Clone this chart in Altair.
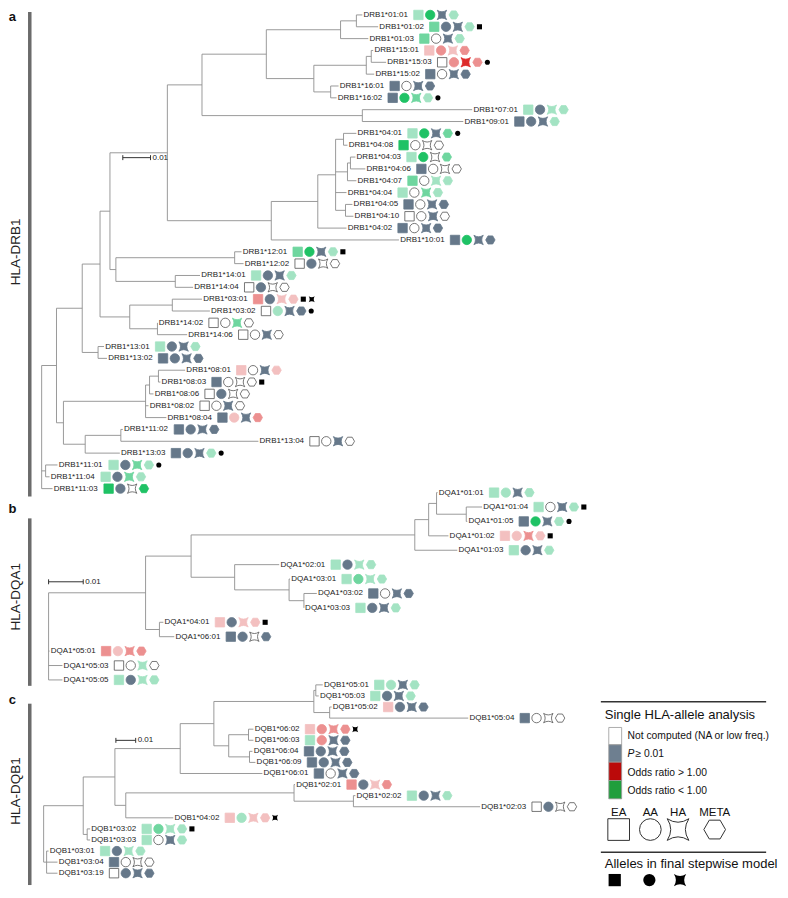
import altair as alt
import pandas as pd

# ---------------- colour classes of the single-allele analysis ----------------
CLASS_FILL = {"W": "#ffffff", "S": "#66788a", "G1": "#a3e3c3", "G2": "#6fd69f", "G3": "#1fc265",
              "R1": "#f3c0c0", "R2": "#ec9090", "R3": "#dd2b2b"}

STAR = "M-1,-1Q0,-0.35,1,-1Q0.35,0,1,1Q0,0.35,-1,1Q-0.35,0,-1,-1Z"
HEX = "M-1,0L-0.5,-0.866L0.5,-0.866L1,0L0.5,0.866L-0.5,0.866Z"
SHAPES = ["square", "circle", STAR, HEX]            # EA, AA, HA, META
STEP_SHAPES = {"sq": "square", "ci": "circle", "st": STAR}

# ---------------- HLA-DRB1 ----------------
drb1_names = ["01:01", "01:02", "01:03", "15:01", "15:03", "15:02", "16:01", "16:02", "07:01", "09:01",
              "04:01", "04:08", "04:03", "04:06", "04:07", "04:04", "04:05", "04:10", "04:02", "10:01",
              "12:01", "12:02", "14:01", "14:04", "03:01", "03:02", "14:02", "14:06", "13:01", "13:02",
              "08:01", "08:03", "08:06", "08:02", "08:04", "11:02", "13:04", "13:03", "11:01", "11:04", "11:03"]
drb1_xend = [362, 378, 368, 373, 386, 374, 338, 336, 473, 464,
             356, 347, 355, 365, 356, 346, 352, 353, 346, 399,
             240, 242, 198, 191, 200, 208, 155, 185, 101, 104,
             183, 158, 151, 146, 164, 120, 257, 117, 54, 46, 49]
drb1_calls = ["G1 G3 S G1", "G2 S S G1", "G2 W S G1", "R1 R2 R1 R2", "W R2 R3 R2", "S W S S", "S W S S",
              "S G3 G2 G1", "G1 S G1 G1", "S S S G1",
              "G1 G3 S G2", "G3 W W W", "G1 G3 W G2", "S W W W", "G2 W G1 G1", "G1 W G2 G1", "S W S S",
              "W W S W", "S W S S", "S G3 S S",
              "G2 G3 S G1", "W S W W", "G1 S S G1", "W S W W", "R2 S R1 R1", "W G1 S S", "W W G2 W",
              "W W S W", "G1 S S G1", "S S S S",
              "R1 W S R1", "S W W W", "W S W W", "W W S W", "S R1 S R2", "S S S S", "W W S W", "S S S G1",
              "G1 S G2 G1", "G1 S G2 G1", "G3 S W G3"]
drb1_steps = {"01:02": "sq", "15:03": "ci", "16:02": "ci", "04:01": "ci", "12:01": "sq", "03:01": "sq st",
              "03:02": "ci", "08:03": "sq", "13:03": "ci", "11:01": "ci"}
drb1_tree = (38, [
    (53, [
        (79, [
            (97, [
                (107, [
                    (165, [
                        (200, [
                            (265, [
                                (340, [(356, ["01:01", "01:02"]), "01:03"]),
                                (313, [(366, [(371, ["15:01", "15:03"]), "15:02"]), (330, ["16:01", "16:02"])]),
                            ]),
                            (362, ["07:01", "09:01"]),
                        ]),
                        (270, [
                            (317, [
                                (335, [(343, ["04:01", "04:08"]), (347, [(350, ["04:03", "04:06"]), "04:07"]),
                                       "04:04", (345, ["04:05", "04:10"])]),
                                "04:02"]),
                            "10:01"]),
                    ]),
                    (113, [(233, ["12:01", "12:02"]), (173, ["14:01", "14:04"])]),
                ]),
                (127, [(170, ["03:01", "03:02"]), (155, ["14:02", "14:06"])]),
            ]),
            (95, ["13:01", "13:02"]),
        ]),
        (60, [
            (143, [(147, [(156, ["08:01", "08:03"]), "08:06"]), "08:02", "08:04"]),
            (82, [(118, ["11:02", "13:04"]), "13:03"]),
        ]),
    ]),
    (42, ["11:01", "11:04"]),
    "11:03",
])

# ---------------- HLA-DQA1 ----------------
dqa1_names = ["01:01", "01:04", "01:05", "01:02", "01:03", "02:01", "03:01", "03:02", "03:03",
              "04:01", "06:01", "05:01", "05:03", "05:05"]
dqa1_xend = [438, 483, 468, 449, 458, 278, 289, 316, 303, 161, 172, 46, 59, 59]
dqa1_calls = ["G1 G1 S G1", "G1 W S G1", "S G3 S G1", "R1 R1 R2 R1", "G1 S S G1", "G1 S G1 G1",
              "G1 G2 G1 G1", "S W S S", "G1 S S G1", "R1 S R1 R1", "S S W S", "R2 R1 R2 R2",
              "W W G1 W", "G1 S G1 G1"]
dqa1_steps = {"01:04": "sq", "01:05": "ci", "01:02": "sq", "04:01": "sq"}
dqa1_tree = (45, [
    (143, [
        (189, [
            (415, [(429, [(437, ["01:01", (467, ["01:04", "01:05"])]), "01:02"]), "01:03"]),
            (233, ["02:01", (288, ["03:01", (303, ["03:02", "03:03"])])]),
        ]),
        (157, ["04:01", "06:01"]),
    ]),
    "05:01", "05:03", "05:05",
])

# ---------------- HLA-DQB1 ----------------
dqb1_names = ["05:01", "05:03", "05:02", "05:04", "06:02", "06:03", "06:04", "06:09", "06:01",
              "02:01", "02:02", "02:03", "04:02", "03:02", "03:03", "03:01", "03:04", "03:19"]
dqb1_xend = [322, 318, 331, 469, 252, 252, 251, 254, 261, 294, 355, 481, 171, 87, 87, 45, 54, 54]
dqb1_calls = ["G1 G1 S G1", "G1 S S G1", "R1 S S S", "S W W W", "R1 R2 R2 R2", "G1 R2 S S",
              "S S S S", "S S S S", "S W S S", "R2 S R1 R2", "G1 S S G1", "W S W W",
              "R1 G1 R1 R1", "G1 G2 G1 G1", "G1 W S G1", "G1 S G1 G1", "S W W W", "W S S S"]
dqb1_steps = {"06:02": "st", "04:02": "st", "03:02": "sq"}
dqb1_tree = (40, [
    (80, [
        (112, [
            (178, [
                (212, [
                    (313, [(315, ["05:01", "05:03"]), (329, ["05:02", "05:04"])]),
                    (227, [(247, ["06:02", "06:03"]), (248, ["06:04", "06:09"])]),
                ]),
                "06:01",
            ]),
            (123, [(293, ["02:01", (353, ["02:02", "02:03"])]), "04:02"]),
        ]),
        (84, ["03:02", "03:03"]),
    ]),
    (43, ["03:01", "03:04", "03:19"]),
])

panels = [
    dict(prefix="DRB1*", names=drb1_names, xend=drb1_xend, calls=drb1_calls, steps=drb1_steps,
         tree=drb1_tree, top=11, step=11.95),
    dict(prefix="DQA1*", names=dqa1_names, xend=dqa1_xend, calls=dqa1_calls, steps=dqa1_steps,
         tree=dqa1_tree, top=493, step=14.54),
    dict(prefix="DQB1*", names=dqb1_names, xend=dqb1_xend, calls=dqb1_calls, steps=dqb1_steps,
         tree=dqb1_tree, top=687, step=11.18),
]

# panel decorations
panel_letters = ["a", "b", "c"]
panel_letter_y = [13, 510, 702]
panel_titles = ["HLA-DRB1", "HLA-DQA1", "HLA-DQB1"]
panel_title_y = [250, 598, 794]
panel_bar_y = [8, 519, 706]
panel_bar_y2 = [497, 688, 889]
scale_x = [120, 45, 113]
scale_x2 = [148, 80, 133]
scale_y = [155, 583, 743]

# ---------------- layout helpers ----------------
CW = {"D": .722, "R": .722, "B": .667, "Q": .778, "A": .667, "*": .389, ":": .278}


def text_w(s, fs=8.0):
    return fs * sum(CW.get(c, .556) for c in s)


def layout(node, ypos, xend, segs):
    if isinstance(node, str):
        return xend[node], ypos[node]
    nx, kids = node
    pts = [layout(k, ypos, xend, segs) for k in kids]
    ys = [p[1] for p in pts]
    for cx, cy in pts:
        segs.append({"x": nx, "y": cy, "x2": cx, "y2": cy})
    segs.append({"x": nx, "y": min(ys), "x2": nx, "y2": max(ys)})
    return nx, (min(ys) + max(ys)) / 2


branches, labels, symbols, stepmarks = [], [], [], []
SYM_OFF, SYM_GAP, STEP_OFF, STEP_GAP = 11.0, 11.9, 10.0, 8.5
for p in panels:
    ypos = {n: p["top"] + i * p["step"] for i, n in enumerate(p["names"])}
    xend = dict(zip(p["names"], p["xend"]))
    layout(p["tree"], ypos, xend, branches)
    for i, n in enumerate(p["names"]):
        y = ypos[n]
        txt = p["prefix"] + n
        lx = xend[n] + 1.2
        labels.append({"x": lx, "y": y, "text": txt})
        end = lx + text_w(txt)
        for k, c in enumerate(p["calls"][i].split()):
            symbols.append({"x": end + SYM_OFF + k * SYM_GAP, "y": y, "shape": SHAPES[k],
                            "fill": CLASS_FILL[c], "stroke": "#555555" if c == "W" else CLASS_FILL[c]})
        hx = end + SYM_OFF + 3 * SYM_GAP
        for j, s in enumerate(p["steps"].get(n, "").split()):
            stepmarks.append({"x": hx + STEP_OFF + j * STEP_GAP, "y": y, "shape": STEP_SHAPES[s],
                              "size": 36 if s == "st" else 26})

branches_df = pd.DataFrame(branches)
labels_df = pd.DataFrame(labels)
symbols_df = pd.DataFrame(symbols)
steps_df = pd.DataFrame(stepmarks)

XS = alt.Scale(domain=[4, 784], nice=False, zero=False)
YS = alt.Scale(domain=[4, 894], nice=False, zero=False, reverse=True)


def ex(f="x"):
    return alt.X(f"{f}:Q", scale=XS, axis=None)


def ey(f="y"):
    return alt.Y(f"{f}:Q", scale=YS, axis=None)


FONT = "Liberation Sans"

branch_layer = alt.Chart(branches_df).mark_rule(color="#8e8e8e", strokeWidth=0.9).encode(
    x=ex(), y=ey(), x2="x2:Q", y2="y2:Q")
label_layer = alt.Chart(labels_df).mark_text(align="left", baseline="middle", fontSize=8, font=FONT,
                                             color="#222222").encode(x=ex(), y=ey(), text="text:N")
symbol_layer = alt.Chart(symbols_df).mark_point(filled=True, opacity=1, strokeWidth=0.8, size=88).encode(
    x=ex(), y=ey(), shape=alt.Shape("shape:N", scale=None), fill=alt.Fill("fill:N", scale=None),
    stroke=alt.Stroke("stroke:N", scale=None))
step_layer = alt.Chart(steps_df).mark_point(filled=True, opacity=1, color="#000000").encode(
    x=ex(), y=ey(), shape=alt.Shape("shape:N", scale=None), size=alt.Size("size:Q", scale=None))

# panel bars, titles, letters
deco_df = pd.DataFrame({"letter": panel_letters, "ly": panel_letter_y, "title": panel_titles,
                        "ty": panel_title_y, "by": panel_bar_y, "by2": panel_bar_y2,
                        "sx": scale_x, "sx2": scale_x2, "sy": scale_y,
                        "bx": [26] * 3, "tx": [12] * 3, "lx": [8.5] * 3})
deco_df["sy_lo"] = deco_df["sy"] - 2.5
deco_df["sy_hi"] = deco_df["sy"] + 2.5
deco_df["stx"] = deco_df["sx2"] + 2
deco_df["sl"] = "0.01"

bar_layer = alt.Chart(deco_df).mark_rule(color="#6b6b6b", strokeWidth=3.5).encode(
    x=ex("bx"), y=ey("by"), y2="by2:Q")
title_layer = alt.Chart(deco_df).mark_text(angle=270, align="center", baseline="middle", fontSize=13.5,
                                           font=FONT, color="#222222").encode(x=ex("tx"), y=ey("ty"), text="title:N")
letter_layer = alt.Chart(deco_df).mark_text(align="center", baseline="middle", fontSize=13, fontWeight="bold",
                                            font=FONT, color="#111111").encode(x=ex("lx"), y=ey("ly"), text="letter:N")
sbar_layer = alt.Chart(deco_df).mark_rule(color="#333333", strokeWidth=1).encode(
    x=ex("sx"), x2="sx2:Q", y=ey("sy"))
stick1 = alt.Chart(deco_df).mark_rule(color="#333333", strokeWidth=1).encode(
    x=ex("sx"), y=ey("sy_lo"), y2="sy_hi:Q")
stick2 = alt.Chart(deco_df).mark_rule(color="#333333", strokeWidth=1).encode(
    x=ex("sx2"), y=ey("sy_lo"), y2="sy_hi:Q")
stext = alt.Chart(deco_df).mark_text(align="left", baseline="middle", fontSize=8, font=FONT,
                                     color="#222222").encode(x=ex("stx"), y=ey("sy"), text="sl:N")

# ---------------- legend ----------------
leg_rules_df = pd.DataFrame({"x": [603, 603], "x2": [770, 770], "y": [704, 856]})
leg_titles_df = pd.DataFrame({"x": [607, 607], "y": [717, 868],
                              "text": ["Single HLA-allele analysis", "Alleles in final stepwise model"]})
leg_box_df = pd.DataFrame({"x": [611] * 4, "x2": [624] * 4, "y": [730, 747.5, 765, 783.5],
                           "y2": [747.5, 765, 783.5, 802],
                           "fill": ["#ffffff", "#6e7f90", "#bb0a0a", "#1f9e3c"]})
leg_text_df = pd.DataFrame({"x": [630, 638, 630, 630], "y": [739, 757, 776, 794],
                            "text": ["Not computed (NA or low freq.)", "\u2265 0.01", "Odds ratio > 1.00",
                                     "Odds ratio < 1.00"]})
leg_p_df = pd.DataFrame({"x": [630], "y": [757], "text": ["P"]})
leg_shape_df = pd.DataFrame({"x": [621, 653, 681, 718], "y": [833] * 4, "ly": [816] * 4,
                             "lab": ["EA", "AA", "HA", "META"], "shape": SHAPES})
leg_step_df = pd.DataFrame({"x": [617, 652, 683], "y": [884] * 3, "shape": ["square", "circle", STAR]})

leg_rules = alt.Chart(leg_rules_df).mark_rule(color="#333333", strokeWidth=1.5).encode(
    x=ex(), x2="x2:Q", y=ey())
leg_titles = alt.Chart(leg_titles_df).mark_text(align="left", baseline="middle", fontSize=13, font=FONT,
                                                color="#111111").encode(x=ex(), y=ey(), text="text:N")
leg_boxes = alt.Chart(leg_box_df).mark_rect(stroke="#999999", strokeWidth=0.8).encode(
    x=ex(), x2="x2:Q", y=ey(), y2="y2:Q", fill=alt.Fill("fill:N", scale=None))
leg_texts = alt.Chart(leg_text_df).mark_text(align="left", baseline="middle", fontSize=10.3, font=FONT,
                                             color="#111111").encode(x=ex(), y=ey(), text="text:N")
leg_p = alt.Chart(leg_p_df).mark_text(align="left", baseline="middle", fontSize=10.3, font=FONT,
                                      fontStyle="italic", color="#111111").encode(x=ex(), y=ey(), text="text:N")
leg_shape_labels = alt.Chart(leg_shape_df).mark_text(align="center", baseline="middle", fontSize=11.5,
                                                     font=FONT, color="#111111").encode(
    x=ex(), y=ey("ly"), text="lab:N")
leg_shapes = alt.Chart(leg_shape_df).mark_point(filled=True, fill="#ffffff", stroke="#333333", strokeWidth=1,
                                                opacity=1, size=470).encode(
    x=ex(), y=ey(), shape=alt.Shape("shape:N", scale=None))
leg_steps = alt.Chart(leg_step_df).mark_point(filled=True, color="#000000", opacity=1, size=150).encode(
    x=ex(), y=ey(), shape=alt.Shape("shape:N", scale=None))

chart = alt.layer(
    branch_layer, label_layer, symbol_layer, step_layer,
    bar_layer, title_layer, letter_layer, sbar_layer, stick1, stick2, stext,
    leg_rules, leg_titles, leg_boxes, leg_texts, leg_p, leg_shape_labels, leg_shapes, leg_steps,
).properties(width=772, height=882, padding=0, autosize="none").configure_view(stroke=None)

chart.save("out.html", embed_options={"renderer": "svg", "actions": False})
